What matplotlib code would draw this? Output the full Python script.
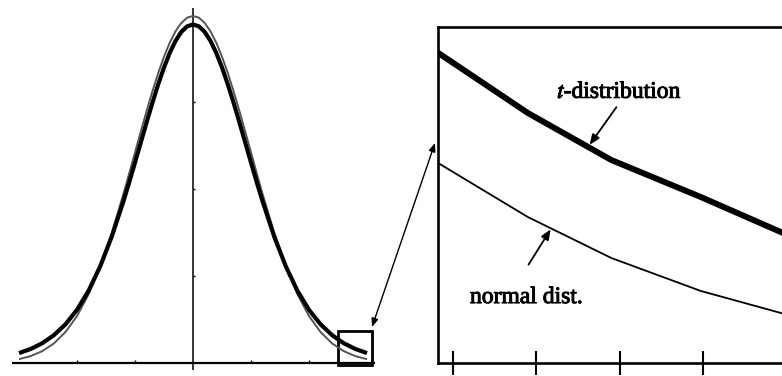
import matplotlib
matplotlib.use("Agg")
import matplotlib.pyplot as plt
import matplotlib.patheffects as pe
from matplotlib.patches import Rectangle, ConnectionPatch

plt.rcParams['font.family'] = ['Liberation Serif', 'DejaVu Serif']
plt.rcParams['mathtext.fontset'] = 'stix'

# ---- data ----
# full view: density curves
x_full = [-3.0, -2.8, -2.6, -2.4, -2.2, -2.0, -1.8, -1.6, -1.4, -1.2, -1.1, -1.0,
          -0.9, -0.8, -0.7, -0.6, -0.5, -0.4, -0.3, -0.2, -0.1, 0.0,
          0.1, 0.2, 0.3, 0.4, 0.5, 0.6, 0.7, 0.8, 0.9,
          1.0, 1.1, 1.2, 1.4, 1.6, 1.8, 2.0, 2.2, 2.4, 2.6, 2.8, 3.0]
normal_full = [0.0044, 0.0079, 0.0136, 0.0224, 0.0355, 0.0540, 0.0790, 0.1109,
               0.1497, 0.1942, 0.2179, 0.2420,
               0.2661, 0.2897, 0.3123, 0.3332, 0.3521, 0.3683, 0.3814, 0.3910, 0.3970, 0.3989,
               0.3970, 0.3910, 0.3814, 0.3683, 0.3521, 0.3332, 0.3123, 0.2897, 0.2661,
               0.2420, 0.2179, 0.1942, 0.1497, 0.1109, 0.0790, 0.0540, 0.0355,
               0.0224, 0.0136, 0.0079, 0.0044]
t_full = [0.0114, 0.0161, 0.0227, 0.0319, 0.0444, 0.0611, 0.0831, 0.1111,
          0.1454, 0.1857, 0.2076, 0.2304,
          0.2535, 0.2766, 0.2991, 0.3203, 0.3397, 0.3566, 0.3704, 0.3807, 0.3870, 0.3891,
          0.3870, 0.3807, 0.3704, 0.3566, 0.3397, 0.3203, 0.2991, 0.2766, 0.2535,
          0.2304, 0.2076, 0.1857, 0.1454, 0.1111, 0.0831, 0.0611, 0.0444,
          0.0319, 0.0227, 0.0161, 0.0114]
full_xticks = [-2, -1, 1, 2]
full_yticks = [0.1, 0.2, 0.3]

# zoomed tail view
x_zoom = [2.582, 2.69, 2.79, 2.897, 3.0]
t_zoom = [0.0231, 0.0186, 0.0151, 0.01235, 0.00955]
normal_zoom = [0.0149, 0.01086, 0.00781, 0.00536, 0.0036]
zoom_xticks = [2.6, 2.7, 2.8, 2.9, 3.0]

W, H = 782, 376
fig = plt.figure(figsize=(W / 100, H / 100), dpi=100)

# ---- left panel ----
ax1 = fig.add_axes([0, 0, 380 / W, 1])
ax1.set_xlim(-193 / 58, (380 - 193) / 58)
ax1.set_ylim(-13 / 870, 363 / 870)
ax1.axis('off')
ax1.hlines(0, -3.12, 3.14, color='black', lw=1.6)
ax1.vlines(0, -0.008, 0.408, color='black', lw=1.1)
ax1.vlines(full_xticks, 0, 0.004, color='black', lw=1.0)
ax1.hlines(full_yticks, 0, 0.04, color='black', lw=1.0)
ax1.plot(x_full, normal_full, color='#555555', lw=1.4, solid_capstyle='butt',
         solid_joinstyle='round')
ax1.plot(x_full, t_full, color='black', lw=3.0, solid_capstyle='butt',
         solid_joinstyle='round')
ax1.add_patch(Rectangle((2.5, -0.0023), 0.586, 0.039, fill=False,
                        ec='black', lw=2.0, clip_on=False))

# ---- right panel ----
ax2 = fig.add_axes([438 / W, 13 / H, 362 / W, 336 / H])
ax2.set_xlim(2.5824, 2.5824 + 362 / 835.3)
ax2.set_ylim(0, 0.025)
ax2.plot(x_zoom, t_zoom, color='black', lw=4.3, solid_capstyle='butt')
ax2.plot(x_zoom, normal_zoom, color='black', lw=1.3)
for s in ['left', 'top', 'bottom', 'right']:
    ax2.spines[s].set_linewidth(1.9)
ax2.set_xticks(zoom_xticks)
ax2.set_yticks([])
ax2.tick_params(axis='x', direction='inout', length=17, width=1.5,
                labelbottom=False)

thick = [pe.withStroke(linewidth=0.7, foreground='black')]
ax2.text(2.7249, 0.01972, r'$t$-distribution', fontsize=17,
         ha='left', va='baseline', path_effects=thick)
ax2.text(2.6207, 0.00446, 'normal dist.', fontsize=17,
         ha='left', va='baseline', path_effects=thick)
ax2.annotate('', xy=(2.762, 0.01607), xytext=(2.7979, 0.0192),
             arrowprops=dict(arrowstyle='-|>,head_length=0.6,head_width=0.25',
                             color='black', lw=1.3))
ax2.annotate('', xy=(2.719, 0.01012), xytext=(2.689, 0.00714),
             arrowprops=dict(arrowstyle='-|>,head_length=0.6,head_width=0.25',
                             color='black', lw=1.3))

con = ConnectionPatch(xyA=(3.086, 0.0414), coordsA=ax1.transData,
                      xyB=(2.5788, 0.01637), coordsB=ax2.transData,
                      arrowstyle='<|-|>,head_length=0.5,head_width=0.2',
                      color='black', lw=1.0)
fig.add_artist(con)

fig.savefig('out.png', dpi=100)
